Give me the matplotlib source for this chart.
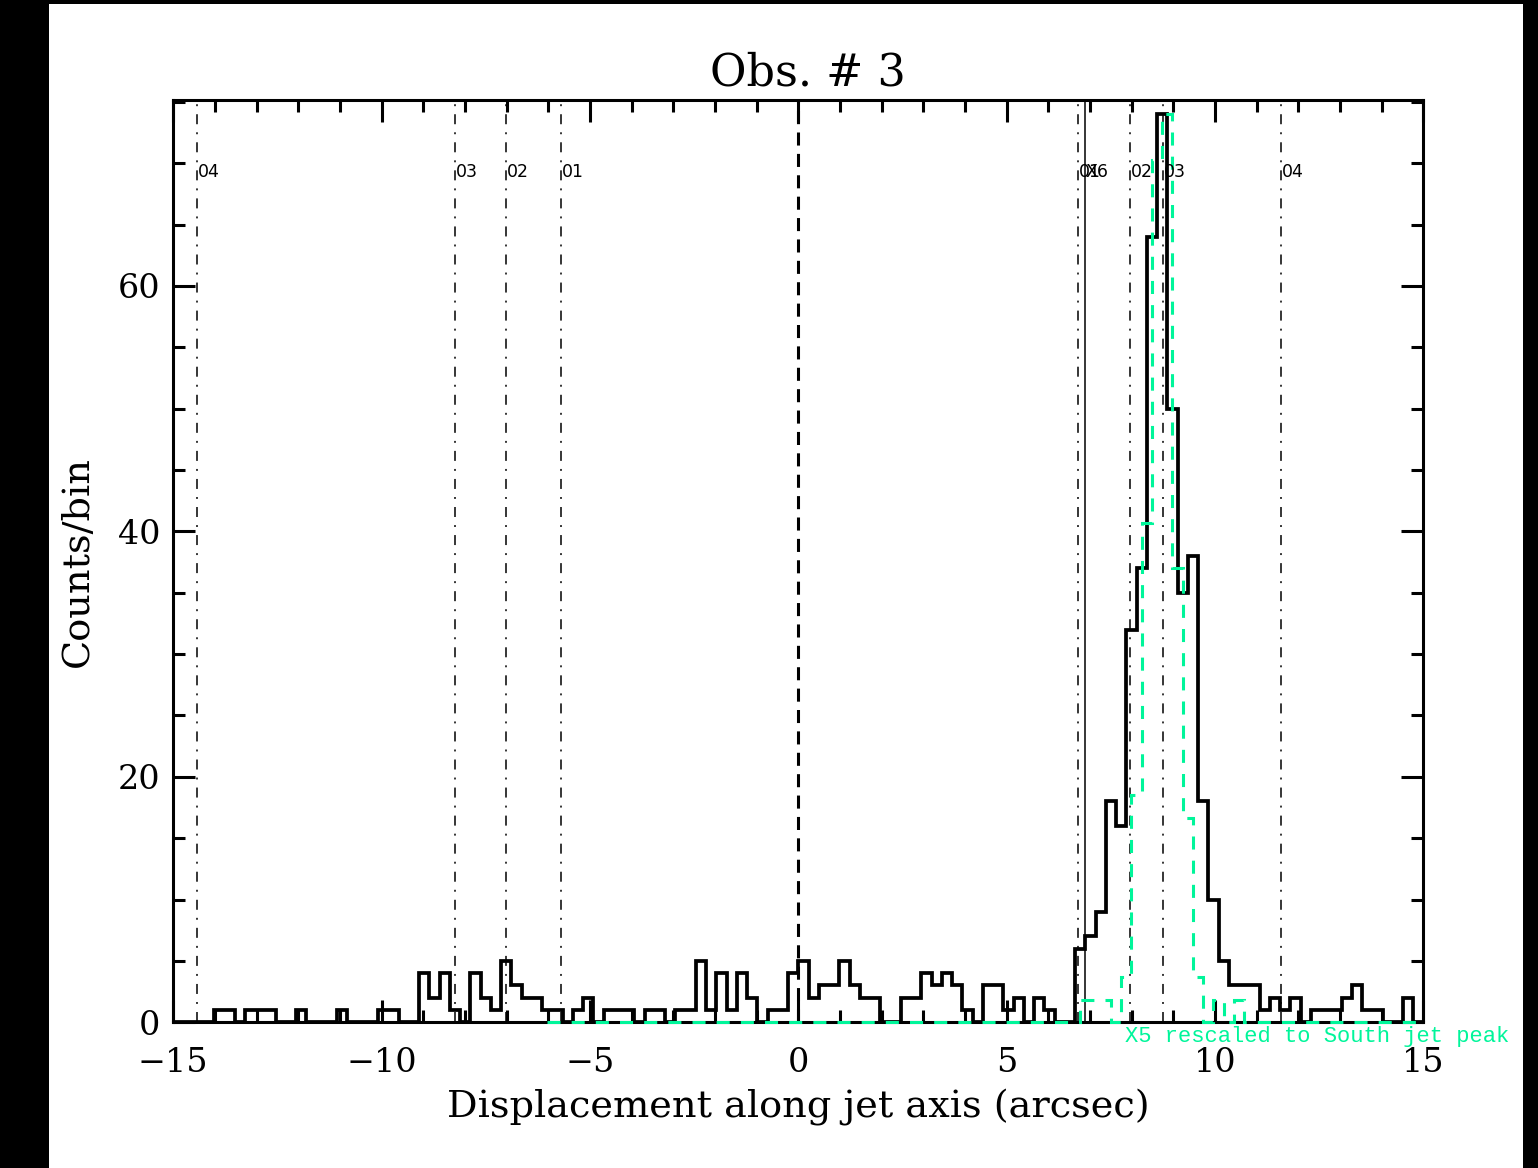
import numpy as np
import matplotlib
matplotlib.use('Agg')
import matplotlib.pyplot as plt
from matplotlib.patches import Rectangle
from matplotlib.ticker import MultipleLocator

plt.rcParams['font.family'] = 'DejaVu Serif'
plt.rcParams['lines.scale_dashes'] = False

# bin width of the profile along the jet (arcsec)
bin_width = 0.246

# counts per bin, black histogram, bins from -15 to +15 arcsec
counts = [0, 0, 0, 0, 1, 1, 0, 1, 1, 1,
          0, 0, 1, 0, 0, 0, 1, 0, 0, 0,
          1, 1, 0, 0, 4, 2, 4, 1, 0, 4,
          2, 1, 5, 3, 2, 2, 1, 1, 0, 1,
          2, 0, 1, 1, 1, 0, 1, 1, 0, 1,
          1, 5, 1, 4, 1, 4, 2, 0, 1, 1,
          4, 5, 2, 3, 3, 5, 3, 2, 2, 0,
          0, 2, 2, 4, 3, 4, 3, 1, 0, 3,
          3, 1, 2, 0, 2, 1, 0, 0, 6, 7,
          9, 18, 16, 32, 37, 64, 74, 50, 35, 38,
          18, 10, 5, 3, 3, 3, 1, 2, 1, 2,
          0, 1, 1, 1, 2, 3, 1, 1, 0, 0,
          2, 0]

# X5 profile rescaled to the south jet peak (green dashed), starts near -6 arcsec
x5_rescaled = [0, 0, 0, 0, 0, 0, 0, 0, 0, 0,
               0, 0, 0, 0, 0, 0, 0, 0, 0, 0,
               0, 0, 0, 0, 0, 0, 0, 0, 0, 0,
               0, 0, 0, 0, 0, 0, 0, 0, 0, 0,
               0, 0, 0, 0, 0, 0, 0, 0, 0, 0,
               0, 0, 1.85, 1.85, 1.85, 0, 3.7, 18.5, 40.7, 70.3,
               74, 37, 16.65, 3.7, 0, 1.85, 0, 1.85, 0, 0,
               0, 0, 0, 0, 0, 0, 0, 0, 0, 0,
               0, 0, 0, 0, 0, 0]

# knot positions (arcsec) marked with dash-dot lines
knot_pos = [-14.43, -8.24, -7.02, -5.70, 6.71, 7.96, 8.75, 11.58]
knot_lab = ['04', '03', '02', '01', '01', '02', '03', '04']
x6_pos = 6.88

nb = len(counts) // 2
edges = np.arange(-nb, nb + 1) * bin_width
x5_edges = (np.arange(len(x5_rescaled) + 1) - 25 + 0.5) * bin_width

W, H = 1538, 1168
fig = plt.figure(figsize=(W / 100, H / 100), dpi=100, facecolor='black')
fig.patches.append(Rectangle((49 / W, 0), (1523 - 49) / W, 1164 / H,
                             transform=fig.transFigure, facecolor='white',
                             edgecolor='none', zorder=-10))

ax = fig.add_axes([173.3 / W, 1 - 1022.3 / H, 1250 / W, 922.3 / H])
ax.set_zorder(1)
ax.set_xlim(-15, 15)
ax.set_ylim(0, 75.15)

ax.stairs(counts, edges, color='black', lw=2.7, baseline=0, clip_on=False, zorder=3)

clip = Rectangle((0, -0.01), 1, 1.02, transform=ax.transAxes, visible=False)
ax.add_patch(clip)
g = ax.stairs(x5_rescaled, x5_edges, color='#00f59a', lw=2.2,
              linestyle=(0, (9.4, 8.0)), baseline=None, zorder=4)
g.set_clip_path(clip)

# vertical markers
dashdot = (0, (7.2, 5.8, 1.4, 5.8))
for xp, lab in zip(knot_pos, knot_lab):
    ax.axvline(xp, color='black', lw=1.1, linestyle=dashdot, zorder=2)
    ax.text(xp + 0.02, 68.85, lab, family='DejaVu Sans', fontsize=12.5,
            ha='left', va='baseline', zorder=5)
ax.axvline(x6_pos, color='black', lw=1.1, zorder=2)
ax.text(x6_pos + 0.02, 68.85, 'X6', family='DejaVu Sans', fontsize=12.5,
        ha='left', va='baseline', zorder=5)
ax.axvline(0, color='black', lw=2.2, linestyle=(0, (9.4, 6.0)), zorder=2)

ax.text(7.84, -1.6, 'X5 rescaled to South jet peak', color='#00f59a',
        family='Liberation Mono', fontsize=15.9, ha='left', va='baseline',
        clip_on=False)

# axes style
for s in ax.spines.values():
    s.set_linewidth(2.2)
ax.xaxis.set_major_locator(MultipleLocator(5))
ax.xaxis.set_minor_locator(MultipleLocator(1))
ax.yaxis.set_major_locator(MultipleLocator(20))
ax.yaxis.set_minor_locator(MultipleLocator(5))
ax.tick_params(which='both', direction='in', top=True, right=True, width=2.2,
               labelsize=24)
ax.tick_params(which='major', length=15.8)
ax.tick_params(which='minor', length=8.5)
ax.tick_params(axis='x', pad=18)
ax.tick_params(axis='y', pad=9.5)

ax.set_xlabel('Displacement along jet axis (arcsec)', fontsize=27.5)
ax.set_ylabel('Counts/bin', fontsize=27.5)
ax.xaxis.set_label_coords(0.5, -0.072)
ax.yaxis.set_label_coords(-0.062, 0.5)

fig.text(808 / W, 1 - 85 / H, 'Obs. # 3', fontsize=32, ha='center', va='baseline')

fig.savefig('out.png', dpi=100, facecolor=fig.get_facecolor())
